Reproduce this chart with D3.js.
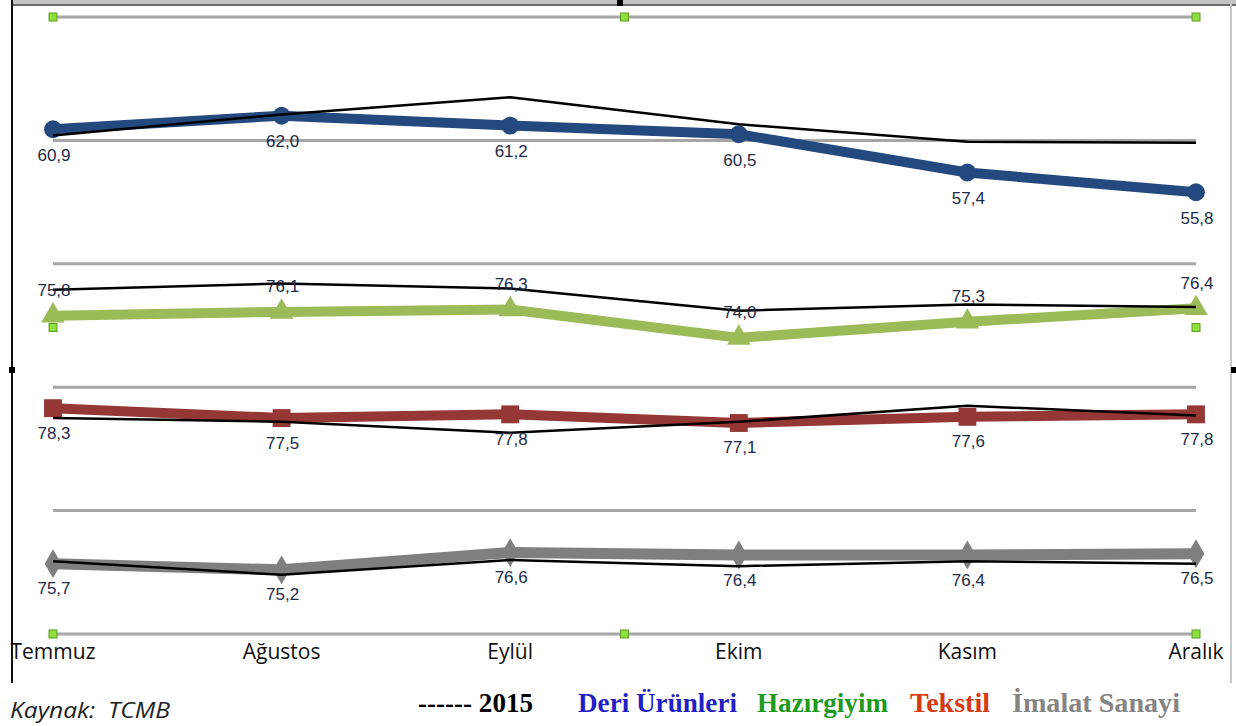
<!DOCTYPE html>
<html>
<head>
<meta charset="utf-8">
<script src="https://cdn.jsdelivr.net/npm/d3@7"></script>
<style>
  html, body { margin: 0; padding: 0; background: #fff; }
  svg { display: block; }
  .value { font-family: "Liberation Sans", Arial, sans-serif; font-size: 17px; fill: #1d2b48; }
  .month { font-family: "Open Sans", sans-serif; font-size: 21px; fill: #111; }
  .legend { font-family: "Liberation Serif", "Times New Roman", serif; font-size: 28px; font-weight: bold; }
  .source { font-family: "Open Sans", sans-serif; font-size: 22px; font-style: italic; fill: #222; white-space: pre; }
</style>
</head>
<body>
<div id="chart"></div>
<script>
  const months = ['Temmuz', 'Ağustos', 'Eylül', 'Ekim', 'Kasım', 'Aralık'];

  // 2016 values (coloured lines, labelled)
  const deri2016 = [60.9, 62.0, 61.2, 60.5, 57.4, 55.8];
  const hazir2016 = [75.8, 76.1, 76.3, 74.0, 75.3, 76.4];
  const tekstil2016 = [78.3, 77.5, 77.8, 77.1, 77.6, 77.8];
  const imalat2016 = [75.7, 75.2, 76.6, 76.4, 76.4, 76.5];

  // 2015 values (thin black lines)
  const deri2015 = [60.4, 62.1, 63.5, 61.3, 59.9, 59.8];
  const hazir2015 = [77.9, 78.4, 78.0, 76.2, 76.7, 76.5];
  const tekstil2015 = [77.5, 77.2, 76.3, 77.2, 78.5, 77.7];
  const imalat2015 = [75.9, 74.8, 76.0, 75.5, 75.9, 75.7];

  // each series is shifted down the common axis into its own band
  const bandShift = [0, 30, 40, 50];

  const legendLabels = ['------ 2015', 'Deri Ürünleri', 'Hazırgiyim', 'Tekstil', 'İmalat Sanayi'];
  const sourceText = 'Kaynak:  TCMB';

  const width = 1236, height = 726;

  const series = [
    { now: deri2016, prev: deri2015, shift: bandShift[0], color: '#23497e', marker: d3.symbolCircle, size: 250, width: 10, label: 26 },
    { now: hazir2016, prev: hazir2015, shift: bandShift[1], color: '#9bbb59', marker: d3.symbolTriangle, size: 240, width: 10, label: -25 },
    { now: tekstil2016, prev: tekstil2015, shift: bandShift[2], color: '#953735', marker: d3.symbolSquare, size: 320, width: 10, label: 25 },
    { now: imalat2016, prev: imalat2015, shift: bandShift[3], color: '#7f7f7f', marker: d3.symbolDiamond, size: 240, width: 11, label: 25 }
  ];

  const svg = d3.select('#chart')
    .append('svg')
    .attr('width', width)
    .attr('height', height);

  const x = d3.scalePoint()
    .domain(months)
    .range([53, 1196]);

  const y = d3.scaleLinear()
    .domain([20, 70])
    .range([634, 17]);

  // outer frame
  svg.append('rect').attr('x', 12).attr('y', 0).attr('width', width - 12).attr('height', 4).attr('fill', '#c4c4c4');
  svg.append('line').attr('x1', 12).attr('x2', width).attr('y1', 5).attr('y2', 5)
    .attr('stroke', '#3a3a3a').attr('stroke-width', 1.5);
  svg.append('line').attr('x1', 12).attr('x2', 12).attr('y1', 0).attr('y2', 683)
    .attr('stroke', '#111').attr('stroke-width', 2);
  svg.append('line').attr('x1', 1231).attr('x2', 1231).attr('y1', 0).attr('y2', 683)
    .attr('stroke', '#c8c8c8').attr('stroke-width', 2);

  // grid
  svg.append('g')
    .selectAll('line')
    .data(y.ticks(5))
    .join('line')
    .attr('x1', x.range()[0])
    .attr('x2', x.range()[1])
    .attr('y1', d => y(d))
    .attr('y2', d => y(d))
    .attr('stroke', '#a6a6a6')
    .attr('stroke-width', 3);

  // coloured series with markers
  series.forEach(s => {
    const g = svg.append('g');
    const line = d3.line()
      .x((d, i) => x(months[i]))
      .y(d => y(d - s.shift));
    g.append('path')
      .datum(s.now)
      .attr('d', line)
      .attr('fill', 'none')
      .attr('stroke', s.color)
      .attr('stroke-width', s.width)
      .attr('stroke-linejoin', 'round');
    g.selectAll('path.mark')
      .data(s.now)
      .join('path')
      .attr('class', 'mark')
      .attr('d', d3.symbol().type(s.marker).size(s.size))
      .attr('transform', (d, i) => `translate(${x(months[i])},${y(d - s.shift)})`)
      .attr('fill', s.color);
  });

  // 2015 lines on top
  series.forEach(s => {
    const line = d3.line()
      .x((d, i) => x(months[i]))
      .y(d => y(d - s.shift));
    svg.append('path')
      .datum(s.prev)
      .attr('d', line)
      .attr('fill', 'none')
      .attr('stroke', '#000')
      .attr('stroke-width', 2.5);
  });

  // value labels
  series.forEach(s => {
    svg.append('g')
      .selectAll('text')
      .data(s.now)
      .join('text')
      .attr('class', 'value')
      .attr('x', (d, i) => x(months[i]) + 1)
      .attr('y', d => y(d - s.shift) + s.label)
      .attr('text-anchor', 'middle')
      .attr('dominant-baseline', 'central')
      .text(d => d3.format('.1f')(d).replace('.', ','));
  });

  // month axis
  svg.append('g')
    .selectAll('text')
    .data(months)
    .join('text')
    .attr('class', 'month')
    .attr('x', d => x(d))
    .attr('y', 659)
    .attr('text-anchor', 'middle')
    .text(d => d);

  // selection handles
  const [x0, x1] = x.range();
  const [yb, yt] = y.range();
  const xm = (x0 + x1) / 2, ym = (yb + yt) / 2 + 2;
  const handles = [[x0, yt], [xm, yt], [x1, yt], [x0, ym], [x1, ym], [x0, yb], [xm, yb], [x1, yb]];
  svg.append('g')
    .selectAll('rect')
    .data(handles)
    .join('rect')
    .attr('x', d => d[0] - 4)
    .attr('y', d => d[1] - 4)
    .attr('width', 8)
    .attr('height', 8)
    .attr('fill', '#8fe03c')
    .attr('stroke', '#5c9c22')
    .attr('stroke-width', 1);
  svg.append('g')
    .selectAll('rect')
    .data([[620, 3], [12, 370], [1234, 370]])
    .join('rect')
    .attr('x', d => d[0] - 3)
    .attr('y', d => d[1] - 3)
    .attr('width', 6)
    .attr('height', 6)
    .attr('fill', '#000');

  // legend
  const legendColors = ['#000', '#1f1fc4', '#1d9a1d', '#d63a12', '#858585'];
  const legendX = [418, 578, 757, 910, 1012];
  const legendW = [115, 159, 131, 80, 168];
  svg.append('g')
    .selectAll('text')
    .data(legendLabels)
    .join('text')
    .attr('class', 'legend')
    .attr('x', (d, i) => legendX[i])
    .attr('y', 712)
    .attr('fill', (d, i) => legendColors[i])
    .attr('textLength', (d, i) => legendW[i])
    .attr('lengthAdjust', 'spacingAndGlyphs')
    .text(d => d);

  svg.append('text')
    .attr('class', 'source')
    .attr('x', 10)
    .attr('y', 718)
    .attr('textLength', 160)
    .attr('lengthAdjust', 'spacingAndGlyphs')
    .text(sourceText);
</script>
</body>
</html>
